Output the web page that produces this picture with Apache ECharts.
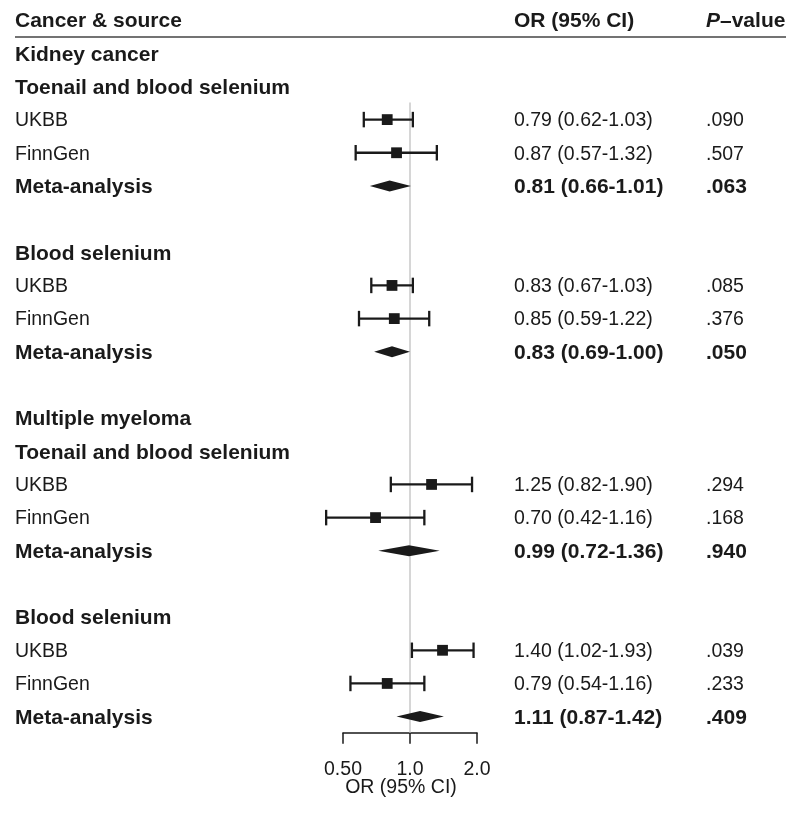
<!DOCTYPE html>
<html><head><meta charset="utf-8">
<script src="https://cdn.jsdelivr.net/npm/echarts@6/dist/echarts.min.js"></script>
<style>html,body{margin:0;padding:0;background:#fff}#chart{width:800px;height:815px}</style>
</head><body><div id="chart"></div>
<script>
const rowLabels = ['Cancer & source','Kidney cancer','Toenail and blood selenium','UKBB','FinnGen','Meta-analysis','',
  'Blood selenium','UKBB','FinnGen','Meta-analysis','',
  'Multiple myeloma','Toenail and blood selenium','UKBB','FinnGen','Meta-analysis','',
  'Blood selenium','UKBB','FinnGen','Meta-analysis'];
const rowKinds = ['header','group','sub','study','study','meta','blank',
  'sub','study','study','meta','blank',
  'group','sub','study','study','meta','blank',
  'sub','study','study','meta'];
const orValues = [null,null,null,0.79,0.87,0.81,null, null,0.83,0.85,0.83,null, null,null,1.25,0.70,0.99,null, null,1.40,0.79,1.11];
const lowerCI  = [null,null,null,0.62,0.57,0.66,null, null,0.67,0.59,0.69,null, null,null,0.82,0.42,0.72,null, null,1.02,0.54,0.87];
const upperCI  = [null,null,null,1.03,1.32,1.01,null, null,1.03,1.22,1.00,null, null,null,1.90,1.16,1.36,null, null,1.93,1.16,1.42];
const pValues  = ['','','','.090','.507','.063','', '','.085','.376','.050','', '','','.294','.168','.940','', '','.039','.233','.409'];
const headerOR = 'OR (95% CI)';
const headerP = ['P', '\u2013value'];
const tickValues = [0.5, 1, 2];
const tickLabels = ['0.50', '1.0', '2.0'];
const axisTitle = 'OR (95% CI)';

const FONT = '"Liberation Sans", Arial, Helvetica, sans-serif';
const BOLD = 21, REG = 19.5;
const INK = '#1a1a1a';
const rowIds = rowLabels.map((_, i) => String(i));
const fmt = v => v.toFixed(2);
const isBold = k => k !== 'study';

const markData = [];
rowLabels.forEach((_, i) => {
  if (orValues[i] != null) markData.push([lowerCI[i], upperCI[i], orValues[i], i, rowKinds[i] === 'meta' ? 1 : 0]);
});
const firstMarkRow = markData[0][3];

function renderForest(params, api) {
  const row = api.value(3);
  const lo = api.coord([api.value(0), row]);
  const hi = api.coord([api.value(1), row]);
  const c = api.coord([api.value(2), row]);
  const y = c[1] + 0.5;
  if (api.value(4) === 1) {
    return {type: 'polygon', shape: {points: [[lo[0], y], [c[0], y - 5.5], [hi[0], y], [c[0], y + 5.5]]}, style: {fill: INK}};
  }
  const cap = 7.75, s = 5.4, lw = 2.3;
  return {type: 'group', children: [
    {type: 'line', shape: {x1: lo[0], y1: y, x2: hi[0], y2: y}, style: {stroke: INK, lineWidth: lw}},
    {type: 'line', shape: {x1: lo[0], y1: y - cap, x2: lo[0], y2: y + cap}, style: {stroke: INK, lineWidth: lw}},
    {type: 'line', shape: {x1: hi[0], y1: y - cap, x2: hi[0], y2: y + cap}, style: {stroke: INK, lineWidth: lw}},
    {type: 'rect', shape: {x: c[0] - s, y: y - s, width: 2 * s, height: 2 * s}, style: {fill: INK}}
  ]};
}
function renderRef(params, api) {
  const cs = params.coordSys;
  const p = api.coord([api.value(0), api.value(1)]);
  const band = api.size([1, 1])[1];
  return {type: 'line', shape: {x1: p[0], y1: p[1] - band / 2, x2: p[0], y2: cs.y + cs.height},
    style: {stroke: '#c8c8c8', lineWidth: 1.5}};
}

const txt = (w, s) => ({fontFamily: FONT, fontWeight: w, fontSize: s, color: INK});

const option = {
  animation: false,
  backgroundColor: '#fff',
  grid: {left: 343, top: 3, width: 134, height: 729.7, containLabel: false, outerBoundsMode: 'none'},
  xAxis: {
    type: 'log', logBase: 2, min: 0.5, max: 2,
    axisLine: {show: true, lineStyle: {color: INK, width: 1.5}},
    axisTick: {show: true, length: 11, lineStyle: {color: INK, width: 1.5}},
    splitLine: {show: false},
    minorTick: {show: false},
    axisLabel: {margin: 27, ...txt('normal', REG),
      formatter: v => { const k = tickValues.findIndex(t => Math.abs(t - v) < 1e-6); return k >= 0 ? tickLabels[k] : ''; }},
    name: axisTitle, nameLocation: 'middle', nameGap: 45, nameMoveOverlap: false,
    nameTextStyle: {...txt('normal', REG), padding: [0, 18, 0, 0]}
  },
  yAxis: [
    {
      type: 'category', data: rowIds, inverse: true, position: 'left',
      axisLine: {show: false}, axisTick: {show: false}, splitLine: {show: false},
      axisLabel: {
        interval: 0, hideOverlap: false, align: 'left', margin: 328, padding: [4, 0, 0, 0],
        formatter: (v) => { const i = +v; const l = rowLabels[i]; if (!l) return ''; return isBold(rowKinds[i]) ? `{b|${l}}` : `{r|${l}}`; },
        rich: {b: txt('bold', BOLD), r: txt('normal', REG)}
      }
    },
    {
      type: 'category', data: rowIds, inverse: true, position: 'right',
      axisLine: {show: false}, axisTick: {show: false}, splitLine: {show: false},
      axisLabel: {
        interval: 0, hideOverlap: false, align: 'left', margin: 37, padding: [4, 0, 0, 0],
        formatter: (v) => {
          const i = +v; const k = rowKinds[i];
          if (k === 'header') return `{hOr|${headerOR}}{hPi|${headerP[0]}}{hP|${headerP[1]}}`;
          if (orValues[i] == null) return '';
          const s = `${fmt(orValues[i])} (${fmt(lowerCI[i])}-${fmt(upperCI[i])})`;
          return k === 'meta' ? `{orB|${s}}{pB|${pValues[i]}}` : `{or|${s}}{p|${pValues[i]}}`;
        },
        rich: {
          hOr: {...txt('bold', BOLD), width: 192},
          hPi: {...txt('bold', BOLD), fontStyle: 'italic'},
          hP: txt('bold', BOLD),
          orB: {...txt('bold', BOLD), width: 192},
          pB: txt('bold', BOLD),
          or: {...txt('normal', REG), width: 192},
          p: txt('normal', REG)
        }
      }
    }
  ],
  graphic: [
    {type: 'line', shape: {x1: 15, y1: 37, x2: 786, y2: 37}, style: {stroke: '#444', lineWidth: 1.5}, silent: true}
  ],
  series: [
    {type: 'custom', name: 'ref', renderItem: renderRef, data: [[1, firstMarkRow]], encode: {x: 0, y: 1}, silent: true, z: 1},
    {type: 'custom', name: 'forest', renderItem: renderForest, data: markData, encode: {x: [0, 1, 2], y: 3}, silent: true, z: 2}
  ]
};
const chart = echarts.init(document.getElementById('chart'), null, {renderer: 'canvas'});
chart.setOption(option);
</script>
</body></html>
